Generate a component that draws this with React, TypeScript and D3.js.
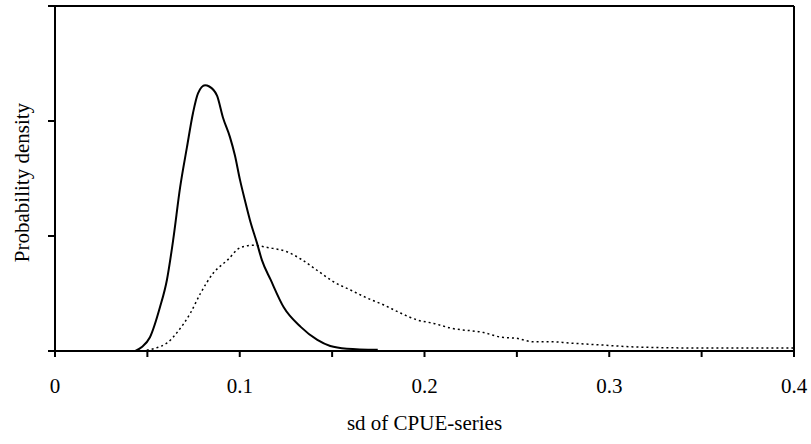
import React from "react";
import * as d3 from "d3";

const solidX = [0.0435, 0.047, 0.0514, 0.0568, 0.0606, 0.064, 0.0677, 0.0714, 0.0747, 0.0774, 0.0812, 0.0835, 0.0877, 0.0909, 0.0947, 0.0974, 0.1001, 0.1028, 0.1055, 0.1093, 0.112, 0.1167, 0.1238, 0.133, 0.142, 0.149, 0.158, 0.1747];
const solidY = [0.0, 0.035, 0.12, 0.38, 0.62, 0.97, 1.42, 1.77, 2.07, 2.24, 2.31, 2.3, 2.22, 2.03, 1.86, 1.7, 1.49, 1.31, 1.14, 0.94, 0.79, 0.62, 0.38, 0.21, 0.096, 0.043, 0.02, 0.01];

const dottedX = [0.047, 0.0607, 0.066, 0.0733, 0.0787, 0.0858, 0.0933, 0.1004, 0.1075, 0.115, 0.126, 0.133, 0.142, 0.151, 0.16, 0.169, 0.178, 0.187, 0.196, 0.205, 0.214, 0.232, 0.2415, 0.25, 0.259, 0.2687, 0.278, 0.296, 0.314, 0.35, 0.4];
const dottedY = [0.0, 0.07, 0.16, 0.33, 0.5, 0.68, 0.79, 0.9, 0.92, 0.9, 0.86, 0.8, 0.7, 0.6, 0.53, 0.46, 0.4, 0.33, 0.27, 0.24, 0.2, 0.16, 0.12, 0.11, 0.08, 0.08, 0.07, 0.052, 0.035, 0.026, 0.026];

const xTickMajor = [0, 0.1, 0.2, 0.3, 0.4];
const xTickMinor = [0, 0.05, 0.1, 0.15, 0.2, 0.25, 0.3, 0.35, 0.4];
const yTicks = [0, 1, 2, 3];

export default function App() {
  const W = 811, H = 444;
  const x = d3.scaleLinear().domain([0, 0.4]).range([55, 794]);
  const y = d3.scaleLinear().domain([0, 3]).range([351, 6]);
  const line = d3.line<[number, number]>().x(d => x(d[0])).y(d => y(d[1])).curve(d3.curveMonotoneX);
  const solid = line(solidX.map((v, i) => [v, solidY[i]] as [number, number])) || "";
  const dotted = line(dottedX.map((v, i) => [v, dottedY[i]] as [number, number])) || "";
  const textStyle = { fontFamily: '"Liberation Serif", "Times New Roman", Times, "DejaVu Serif", serif', fontSize: "21px" };
  return (
    <svg width={W} height={H} style={{ position: "absolute", left: 0, top: 0, background: "#fff" }}>
      <path d={dotted} fill="none" stroke="#000" strokeWidth={1.5} strokeDasharray="2,3" />
      <path d={solid} fill="none" stroke="#000" strokeWidth={2} />
      <line x1={x(0)} x2={x(0)} y1={y(3)} y2={y(0)} stroke="#000" strokeWidth={2} />
      <line x1={x(0)} x2={x(0.4)} y1={y(0)} y2={y(0)} stroke="#000" strokeWidth={2} />
      <line x1={x(0)} x2={x(0.4)} y1={y(3)} y2={y(3)} stroke="#000" strokeWidth={2} />
      <line x1={x(0.4)} x2={x(0.4)} y1={y(3)} y2={y(0)} stroke="#000" strokeWidth={2} />
      {yTicks.map(t => (
        <line key={"yt" + t} x1={x(0) - 7} x2={x(0)} y1={y(t)} y2={y(t)} stroke="#000" strokeWidth={2} />
      ))}
      {xTickMinor.map(t => (
        <line key={"xt" + t} x1={x(t)} x2={x(t)} y1={y(0)} y2={y(0) + 6} stroke="#000" strokeWidth={2} />
      ))}
      {xTickMajor.map(t => (
        <text key={"xl" + t} x={x(t)} y={393} textAnchor="middle" style={textStyle} fill="#000">
          {t === 0 ? "0" : d3.format(".1f")(t)}
        </text>
      ))}
      <text x={x(0.2)} y={430} textAnchor="middle" style={textStyle} fill="#000">sd of CPUE-series</text>
      <text transform={`translate(29, 182.5) rotate(-90)`} textAnchor="middle" style={textStyle} fill="#000">Probability density</text>
    </svg>
  );
}
